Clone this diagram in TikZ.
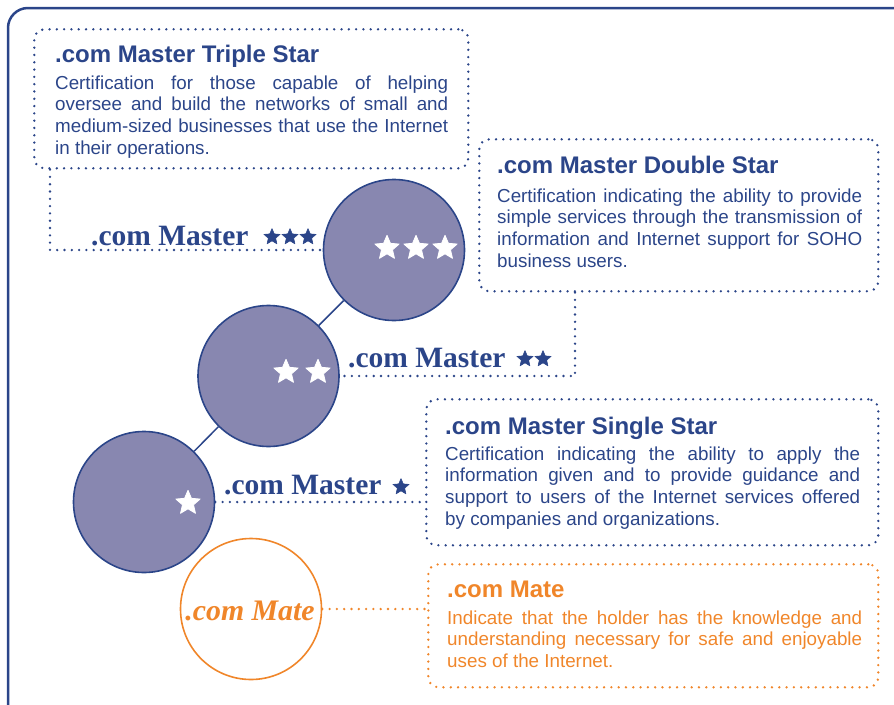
\documentclass[tikz,border=0pt]{standalone}
\usepackage{fontspec}
\setmainfont{Liberation Sans}
\newfontfamily\serifface{Liberation Serif}
\usetikzlibrary{shapes.geometric,calc}
\definecolor{navy}{HTML}{2B4589}
\definecolor{lav}{HTML}{8887B0}
\definecolor{orng}{HTML}{F0862A}
\newcommand{\jl}[2]{\makebox[#1][s]{#2}}
\begin{document}
\begin{tikzpicture}[x=1pt,y=-1pt,
  frame/.style={draw=navy, line width=2.5pt, rounded corners=20pt},
  dotbase/.style={line width=2.6pt, dash pattern=on 0pt off 7.3pt, line cap=round},
  ndots/.style={dotbase, draw=navy},
  odots/.style={dotbase, draw=orng},
  dbox/.style={rectangle, rounded corners=10pt, inner sep=0pt, anchor=north west},
  mcirc/.style={circle, fill=lav, draw=navy, line width=1.6pt, minimum size=141pt, inner sep=0pt},
  ocirc/.style={circle, fill=white, draw=orng, line width=1.6pt, minimum size=141pt, inner sep=0pt},
  link/.style={draw=navy, line width=1.5pt},
  wstar/.style={star, star points=5, star point ratio=2.2, fill=white, draw=white, line width=0.8pt, line join=round, minimum size=25.5pt, inner sep=0pt},
  nstar/.style={star, star points=5, star point ratio=2.2, fill=navy, draw=navy, line width=0.5pt, line join=round, minimum size=17pt, inner sep=0pt},
  lbl/.style={anchor=base west, inner sep=0pt, text=navy, font=\serifface\bfseries\fontsize{29.5pt}{30pt}\selectfont},
  matelbl/.style={anchor=base, inner sep=0pt, text=orng, font=\serifface\bfseries\itshape\fontsize{29.8pt}{30pt}\selectfont},
  ttl/.style={anchor=base west, inner sep=0pt, font=\bfseries\fontsize{24pt}{26pt}\selectfont},
  bodytxt/.style={anchor=base west, inner sep=0pt, font=\fontsize{18.8pt}{21.8pt}\selectfont}
]
\useasboundingbox (0,0) rectangle (894,704);
\draw[frame] (8,800) -- (8,8) -- (960,8);

% description boxes
\node[dbox, ndots, minimum width=434pt, minimum height=139pt] (b1) at (33,28) {};
\node[dbox, ndots, minimum width=399pt, minimum height=152pt] (b2) at (478,138) {};
\node[dbox, ndots, minimum width=452pt, minimum height=146pt] (b3) at (425,398) {};
\node[dbox, odots, minimum width=450pt, minimum height=123pt] (b4) at (427,563) {};

% titles
\node[ttl, text=navy] (h1) at (55,62) {.com Master Triple Star};
\node[ttl, text=navy] (h2) at (497,173) {.com Master Double Star};
\node[ttl, text=navy] (h3) at (445,434) {.com Master Single Star};
\node[ttl, text=orng] (h4) at (447,597) {.com Mate};

% bodies
\node[bodytxt, text=navy] (t1) at (55,89) {\parbox[t]{393pt}{%
\jl{393pt}{Certification for those capable of helping}\\
\jl{393pt}{oversee and build the networks of small and}\\
\jl{393pt}{medium-sized businesses that use the Internet}\\
in their operations.}};
\node[bodytxt, text=navy] (t2) at (497,202) {\parbox[t]{365pt}{%
\jl{365pt}{Certification indicating the ability to provide}\\
\jl{365pt}{simple services through the transmission of}\\
\jl{365pt}{information and Internet support for SOHO}\\
business users.}};
\node[bodytxt, text=navy] (t3) at (445,460) {\parbox[t]{415pt}{%
\jl{415pt}{Certification indicating the ability to apply the}\\
\jl{415pt}{information given and to provide guidance and}\\
\jl{415pt}{support to users of the Internet services offered}\\
by companies and organizations.}};
\node[bodytxt, text=orng] (t4) at (447,624) {\parbox[t]{415pt}{%
\jl{415pt}{Indicate that the holder has the knowledge and}\\
\jl{415pt}{understanding necessary for safe and enjoyable}\\
uses of the Internet.}};

% circles
\node[mcirc] (c3) at (394,250) {};
\node[mcirc] (c2) at (268.5,376) {};
\node[mcirc] (c1) at (144,502) {};
\node[ocirc] (cm) at (251,609) {};
\draw[link] (c3) -- (c2);
\draw[link] (c2) -- (c1);

% white stars
\node[wstar] (w3a) at (387,248) {};
\node[wstar] (w3b) at (416,248) {};
\node[wstar] (w3c) at (445,248) {};
\node[wstar] (w2a) at (286,372) {};
\node[wstar] (w2b) at (318,372) {};
\node[wstar] (w1a) at (188,503) {};

% labels
\node[lbl] (l3) at (91,245) {.com Master};
\node[lbl] (l2) at (348,367) {.com Master};
\node[lbl] (l1) at (224,494) {.com Master};
\node[matelbl] (lm) at (250,620) {.com Mate};

% navy stars
\node[nstar] (n3a) at (272,237) {};
\node[nstar] (n3b) at (290,237) {};
\node[nstar] (n3c) at (308,237) {};
\node[nstar] (n2a) at (525,359) {};
\node[nstar] (n2b) at (543,359) {};
\node[nstar] (n1a) at (401,487) {};

% connectors
\draw[ndots] ([xshift=17pt]b1.south west) |- (c3.west);
\draw[ndots] ([xshift=97pt]b2.south west) |- (c2.east);
\draw[ndots] (c1.east) -- (c1.east -| b3.west);
\draw[odots] (cm.east) -- (cm.east -| b4.west);
\end{tikzpicture}
\end{document}
